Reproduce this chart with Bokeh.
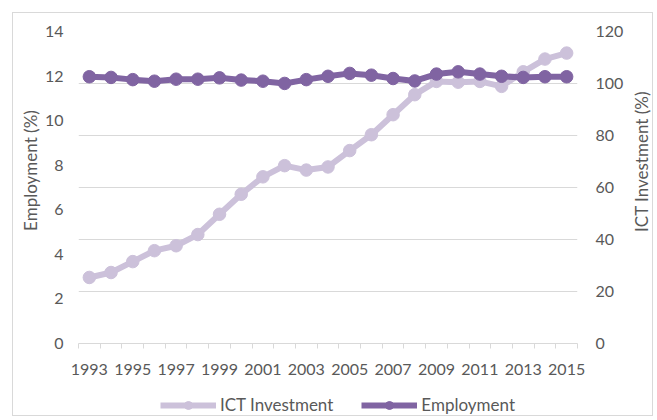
import math
from bokeh.plotting import figure
from bokeh.layouts import column, row
from bokeh.models import Range1d, LinearAxis, FixedTicker, Grid, Legend, LegendItem, Label
from bokeh.embed import file_html
from bokeh.resources import INLINE

years = list(range(1993, 2016))
ict_investment = [25.4, 27.3, 31.5, 35.7, 37.6, 41.9, 49.7, 57.4, 64.1, 68.4, 66.7, 67.9,
                  74.2, 80.3, 88.0, 95.7, 100.8, 100.5, 100.8, 98.9, 104.5, 109.4, 111.7]
employment = [11.97, 11.94, 11.84, 11.77, 11.86, 11.86, 11.92, 11.82, 11.77, 11.67, 11.84, 11.99,
              12.12, 12.04, 11.89, 11.78, 12.09, 12.19, 12.09, 11.99, 11.94, 11.97, 11.97]
year_ticks = list(range(1993, 2016, 2))
employment_ticks = list(range(0, 15, 2))
ict_ticks = list(range(0, 121, 20))
employment_title = "Employment (%)"
ict_title = "ICT Investment (%)"

FONT = "Lato"
FS = "16px"
FS2 = "17px"
TXT = "#595959"
GRID = "#D9D9D9"
C_ICT = "#CCC1DA"
C_EMP = "#8064A2"
LW = 6
MS = 12.5
H = 367
TOP, BOTTOM = 18, 37


def plain_axis(ax):
    ax.axis_line_color = None
    ax.major_tick_line_color = None
    ax.minor_tick_line_color = None
    ax.major_tick_out = 0
    ax.major_tick_in = 0
    ax.minor_tick_out = 0
    ax.minor_tick_in = 0
    ax.major_label_text_font = FONT
    ax.major_label_text_font_size = FS
    ax.major_label_text_color = TXT


def blank_fig(w, h, yr, **kw):
    f = figure(width=w, height=h, x_axis_location=None, y_axis_location=None,
               x_range=Range1d(0, 1), y_range=yr,
               output_backend="svg", toolbar_location=None, **kw)
    f.outline_line_color = None
    f.xgrid.visible = False
    f.ygrid.visible = False
    return f


p = figure(width=587, height=H,
           x_range=Range1d(years[0] - 0.5, years[-1] + 0.5),
           y_range=Range1d(0, 14),
           output_backend="svg", toolbar_location=None,
           min_border_left=34, min_border_right=51, min_border_top=TOP, min_border_bottom=BOTTOM)
p.extra_y_ranges = {"ict": Range1d(0, 120)}
p.outline_line_color = None
p.xgrid.visible = False
p.ygrid.visible = False

# x axis
xa = p.xaxis[0]
xa.ticker = FixedTicker(ticks=year_ticks,
                        minor_ticks=[y - 0.5 for y in years] + [years[-1] + 0.5])
xa.axis_line_color = GRID
xa.major_tick_line_color = None
xa.major_tick_out = 0
xa.major_tick_in = 0
xa.minor_tick_line_color = GRID
xa.minor_tick_out = 5
xa.minor_tick_in = 0
xa.major_label_standoff = 15
xa.major_label_text_font = FONT
xa.major_label_text_font_size = FS
xa.major_label_text_color = TXT

# left axis
ya = p.yaxis[0]
plain_axis(ya)
ya.ticker = FixedTicker(ticks=employment_ticks)
ya.major_label_standoff = 15

# right axis
ra = LinearAxis(y_range_name="ict", ticker=FixedTicker(ticks=ict_ticks))
plain_axis(ra)
ra.major_label_standoff = 18
p.add_layout(ra, "right")

grid = Grid(dimension=1, ticker=FixedTicker(ticks=ict_ticks), y_range_name="ict",
            grid_line_color=GRID, grid_line_width=1)
p.add_layout(grid)

p.line(years, ict_investment, y_range_name="ict", line_width=LW, color=C_ICT)
p.scatter(years, ict_investment, y_range_name="ict", size=MS, color=C_ICT)
p.line(years, employment, line_width=LW, color=C_EMP)
p.scatter(years, employment, size=MS, color=C_EMP)

# axis titles in narrow side strips (reading bottom to top, as in the reference)
lt = blank_fig(28, H, Range1d(0, 14), min_border_left=0, min_border_right=0,
               min_border_top=TOP, min_border_bottom=BOTTOM)
lt.add_layout(Label(x=0.6, y=7.76, text=employment_title, angle=math.pi / 2,
                    text_align="center", text_baseline="middle",
                    text_font=FONT, text_font_size=FS2, text_color=TXT))

rf = blank_fig(24, H, Range1d(0, 120), min_border_left=0, min_border_right=0,
               min_border_top=TOP, min_border_bottom=BOTTOM)
rf.add_layout(Label(x=0.55, y=70, text=ict_title, angle=math.pi / 2,
                    text_align="center", text_baseline="middle",
                    text_font=FONT, text_font_size=FS2, text_color=TXT))

# legend strip below the chart (its own renderers sit outside its ranges, so only the legend shows)
lf = blank_fig(639, 35, Range1d(0, 1), min_border_left=62, min_border_right=75,
               min_border_top=0, min_border_bottom=0)
k1 = lf.line(years, ict_investment, line_width=LW, color=C_ICT)
k2 = lf.scatter(years, ict_investment, size=MS, color=C_ICT)
k3 = lf.line(years, employment, line_width=LW, color=C_EMP)
k4 = lf.scatter(years, employment, size=MS, color=C_EMP)
legend = Legend(items=[LegendItem(label="ICT Investment", renderers=[k1, k2]),
                       LegendItem(label="Employment", renderers=[k3, k4])],
                orientation="horizontal", location=(85, 0),
                glyph_width=56, glyph_height=20, label_standoff=4, spacing=28,
                padding=0, margin=0, border_line_color=None, background_fill_alpha=0,
                label_text_font=FONT, label_text_font_size=FS2, label_text_color=TXT)
lf.add_layout(legend)

layout = column(row(lt, p, rf, spacing=0), lf, spacing=0, margin=(12, 0, 0, 12),
                styles={"border": "1px solid #D9D9D9"})

open("out.html", "w").write(file_html(layout, INLINE))
